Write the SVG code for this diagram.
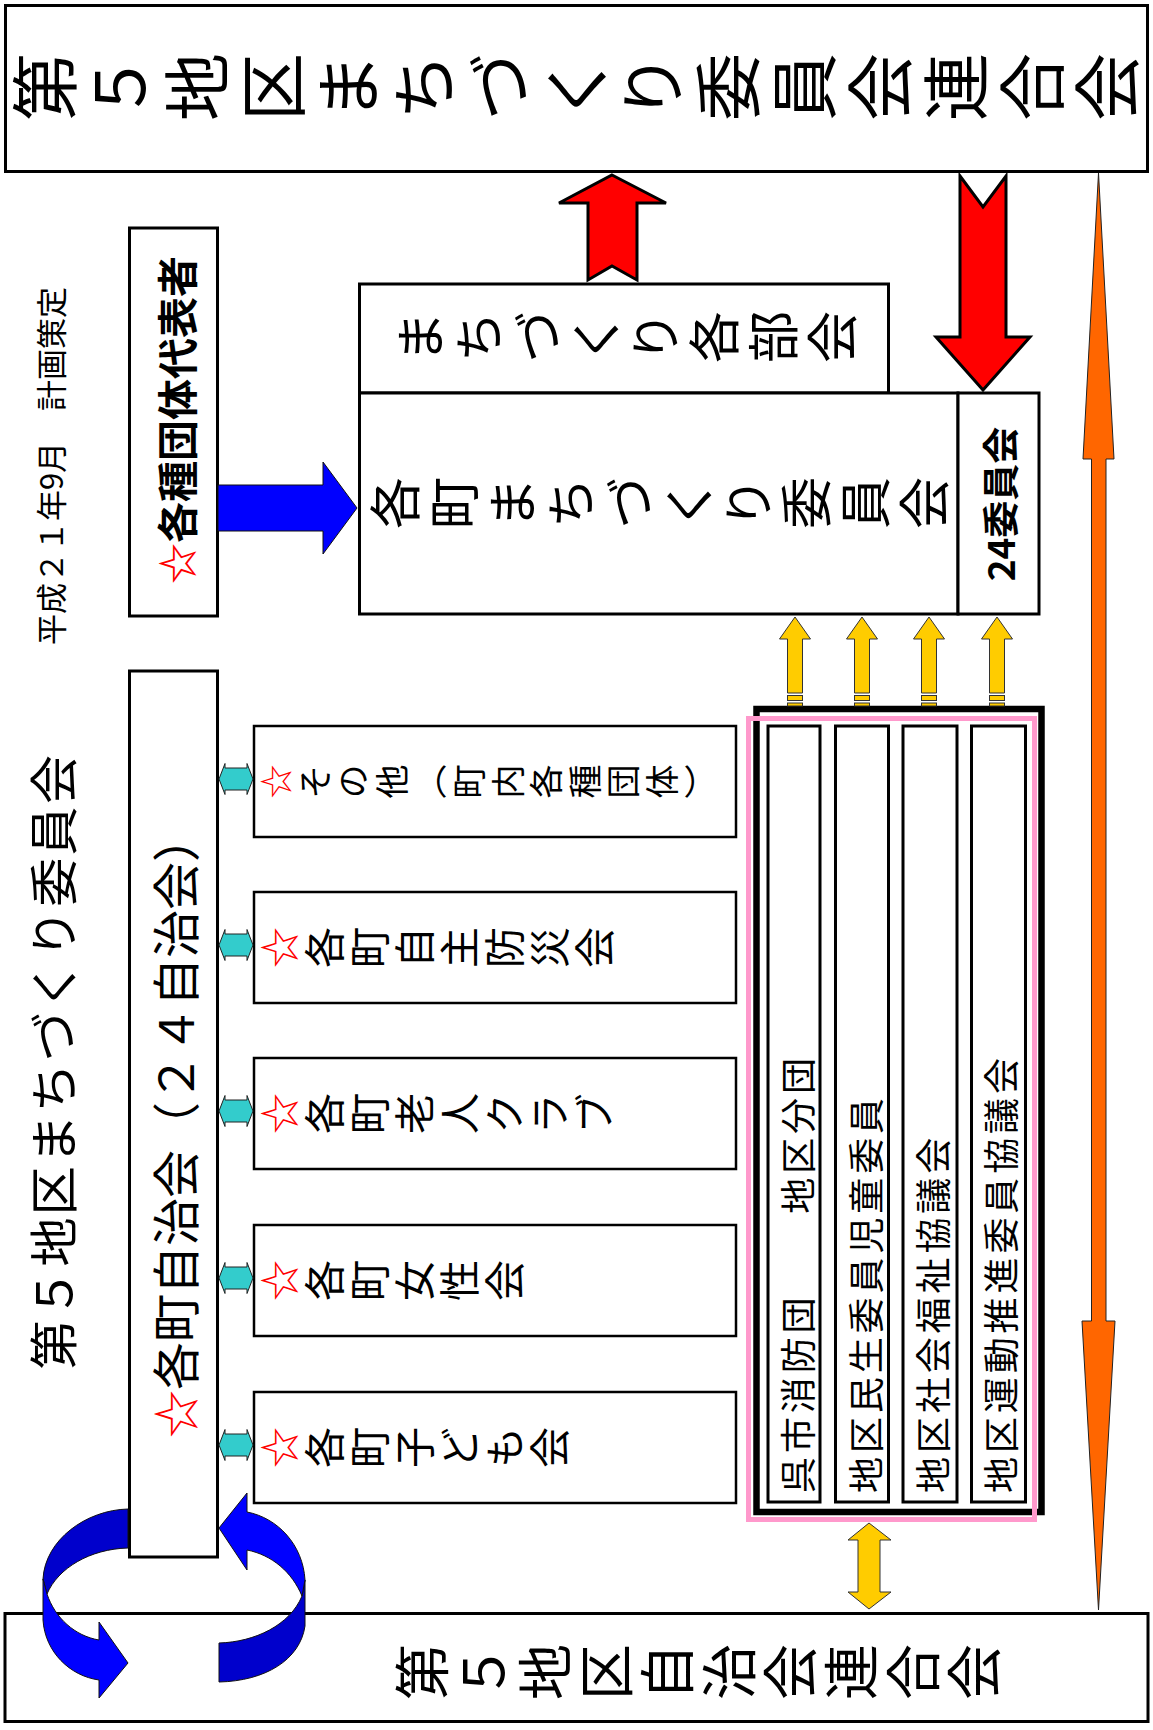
<svg xmlns="http://www.w3.org/2000/svg" width="1153" height="1730" viewBox="0 0 1153 1730">
<style>
  text { font-family: "Noto Sans CJK JP", "Noto Sans CJK SC", sans-serif; fill: #000; }
  .box { fill: #fff; stroke: #000; stroke-width: 3; }
  .sbox { fill: #fff; stroke: #000; stroke-width: 2.5; }
  .v { writing-mode: vertical-rl; }
  .h { dominant-baseline: central; }
  .mid { text-anchor: middle; }
  .star { fill: #ff0000; }
  .red { fill: #ff0000; stroke: #000; stroke-width: 3; }
  .yel { fill: #ffcc00; stroke: #333; stroke-width: 1; }
  .teal { fill: #33cccc; stroke: #222; stroke-width: 1; }
  .blue { fill: #0000ff; stroke: #111; stroke-width: 1; }
  .dblue { fill: #0000cc; stroke: #111; stroke-width: 1; }
  .orange { fill: #ff6600; stroke: #222; stroke-width: 1; }
</style>
<rect width="1153" height="1730" fill="#fff"/>

<g id="note">
  <text class="h mid" transform="translate(49,466) rotate(-90)" font-size="31">平成２１年9月　計画策定</text>
</g>
<g id="committee-label">
  <text class="h mid" transform="translate(50,1061) rotate(-90)" font-size="49" letter-spacing="2.4">第５地区まちづくり委員会</text>
</g>

<g id="federation-top">
  <rect class="box" x="5.5" y="5.5" width="1142" height="166"/>
  <text class="v" transform="translate(11,87) rotate(-90)" font-size="68" letter-spacing="7.9">第５地区まちづくり委員会連合会</text>
</g>

<g id="bukai">
  <rect class="box" x="359.5" y="284" width="529" height="109"/>
  <text class="v" transform="translate(394,337) rotate(-90)" font-size="52" letter-spacing="6.9">まちづくり各部会</text>
</g>

<g id="town-committee">
  <rect class="box" x="359.5" y="393" width="598.5" height="221"/>
  <text class="v" transform="translate(369,503) rotate(-90)" font-size="52" letter-spacing="6.8">各町まちづくり委員会</text>
</g>

<g id="committee-24">
  <rect class="box" x="958" y="393" width="81" height="221"/>
  <text class="h mid" transform="translate(999,504) rotate(-90)" font-size="37" font-weight="bold">24委員会</text>
</g>

<g id="representatives">
  <rect class="box" x="129.5" y="228" width="88" height="388"/>
  <text class="h mid" transform="translate(175,420) rotate(-90)" font-size="41" font-weight="bold"><tspan class="star">☆</tspan>各種団体代表者</text>
</g>

<g id="town-assoc">
  <rect class="box" x="129.5" y="671" width="88" height="886"/>
  <text class="h mid" transform="translate(173,1126) rotate(-90)" font-size="48"><tspan class="star">☆</tspan>各町自治会（２４自治会）</text>
</g>

<g id="other-groups">
  <rect class="sbox" x="254" y="726" width="482" height="111"/>
  <text class="v" transform="translate(259,781.5) rotate(-90)" font-size="34" letter-spacing="4.6"><tspan class="star">☆</tspan>その他（町内各種団体）</text>
</g>
<g id="bousai">
  <rect class="sbox" x="254" y="892" width="482" height="111"/>
  <text class="v" transform="translate(259,947.5) rotate(-90)" font-size="41" letter-spacing="4"><tspan class="star">☆</tspan>各町自主防災会</text>
</g>
<g id="roujin">
  <rect class="sbox" x="254" y="1058" width="482" height="111"/>
  <text class="v" transform="translate(259,1113.5) rotate(-90)" font-size="41" letter-spacing="4"><tspan class="star">☆</tspan>各町老人クラブ</text>
</g>
<g id="josei">
  <rect class="sbox" x="254" y="1225" width="482" height="111"/>
  <text class="v" transform="translate(259,1280.5) rotate(-90)" font-size="41" letter-spacing="4"><tspan class="star">☆</tspan>各町女性会</text>
</g>
<g id="kodomo">
  <rect class="sbox" x="254" y="1392" width="482" height="111"/>
  <text class="v" transform="translate(259,1447.5) rotate(-90)" font-size="41" letter-spacing="4"><tspan class="star">☆</tspan>各町子ども会</text>
</g>

<g id="district-orgs">
  <rect x="756.5" y="709" width="285" height="803" fill="#fff" stroke="#000" stroke-width="6.5"/>
  <rect x="748.5" y="718.5" width="286" height="801" fill="none" stroke="#ff99cc" stroke-width="5"/>
  <g id="col-fire">
    <rect class="box" x="768" y="726" width="52" height="776"/>
    <text class="h" transform="translate(796,1493) rotate(-90)" font-size="36" letter-spacing="3.9">呉市消防団　　地区分団</text>
  </g>
  <g id="col-minsei">
    <rect class="box" x="835.5" y="726" width="53" height="776"/>
    <text class="h" transform="translate(864,1493) rotate(-90)" font-size="36" letter-spacing="3.9">地区民生委員児童委員</text>
  </g>
  <g id="col-welfare">
    <rect class="box" x="903" y="726" width="54" height="776"/>
    <text class="h" transform="translate(931,1493) rotate(-90)" font-size="36" letter-spacing="3.9">地区社会福祉協議会</text>
  </g>
  <g id="col-sports">
    <rect class="box" x="971.5" y="726" width="54" height="776"/>
    <text class="h" transform="translate(999,1493) rotate(-90)" font-size="36" letter-spacing="3.9">地区運動推進委員協議会</text>
  </g>
</g>

<g id="federation-bottom">
  <rect class="box" x="5" y="1613.5" width="1143" height="108"/>
  <text class="v" transform="translate(394,1672) rotate(-90)" font-size="56" letter-spacing="5.3">第５地区自治会連合会</text>
</g>

<g id="connectors">
  <polygon class="red" points="612,175 666,203 637,203 637,280 612,266 588,280 588,203 559,203"/>
  <polygon class="red" points="960,176 983,207 1006,176 1006,337 1030,337 983,390 936,337 960,337"/>
  <polygon class="blue" points="218,485 323,485 323,462 357,508 323,554 323,531 218,531"/>
  <polygon class="orange" points="1098.5,173 1114,459 1106,459 1106,1321 1115,1321 1098.5,1610 1082,1321 1091.5,1321 1091.5,459 1083,459"/>

  <polygon class="yel" points="795,617 810.5,639 802.5,639 802.5,693 787.5,693 787.5,639 779.5,639"/>
  <rect class="yel" x="787.5" y="695.5" width="15" height="5"/>
  <rect class="yel" x="787.5" y="703" width="15" height="3"/>
  <polygon class="yel" points="862,617 877.5,639 869.5,639 869.5,693 854.5,693 854.5,639 846.5,639"/>
  <rect class="yel" x="854.5" y="695.5" width="15" height="5"/>
  <rect class="yel" x="854.5" y="703" width="15" height="3"/>
  <polygon class="yel" points="929,617 944.5,639 936.5,639 936.5,693 921.5,693 921.5,639 913.5,639"/>
  <rect class="yel" x="921.5" y="695.5" width="15" height="5"/>
  <rect class="yel" x="921.5" y="703" width="15" height="3"/>
  <polygon class="yel" points="997,617 1012.5,639 1004.5,639 1004.5,693 989.5,693 989.5,639 981.5,639"/>
  <rect class="yel" x="989.5" y="695.5" width="15" height="5"/>
  <rect class="yel" x="989.5" y="703" width="15" height="3"/>

  <polygon class="yel" points="869,1523 891,1540 880,1540 880,1592 891,1592 869,1609 848,1592 858,1592 858,1540 848,1540"/>

  <polygon class="teal" points="219,779 225,763.5 225,768 247,768 247,763.5 253,779 247,794.5 247,790 225,790 225,794.5"/>
  <polygon class="teal" points="219,945 225,929.5 225,934 247,934 247,929.5 253,945 247,960.5 247,956 225,956 225,960.5"/>
  <polygon class="teal" points="219,1111 225,1095.5 225,1100 247,1100 247,1095.5 253,1111 247,1126.5 247,1122 225,1122 225,1126.5"/>
  <polygon class="teal" points="219,1278 225,1262.5 225,1267 247,1267 247,1262.5 253,1278 247,1293.5 247,1289 225,1289 225,1293.5"/>
  <polygon class="teal" points="219,1445 225,1429.5 225,1434 247,1434 247,1429.5 253,1445 247,1460.5 247,1456 225,1456 225,1460.5"/>

  <path class="dblue" d="M128,1509 C86,1510 45,1540 43,1579 L47,1594 C58,1568 90,1549 128,1548 Z"/>
  <path class="blue" d="M43,1579 L43,1620 C45,1652 70,1676 99,1680 L99,1698 L128,1663 L99,1622 L99,1640 C75,1636 55,1618 47,1594 Z"/>
  <path class="dblue" d="M305,1580 L305,1626 C300,1660 265,1681 219,1682 L219,1643 C255,1642 290,1625 302,1596 Z"/>
  <path class="blue" d="M247,1512 C278,1518 303,1545 305,1580 L302,1596 C292,1572 272,1555 247,1550 L247,1570 L219,1528 L247,1493 Z"/>
</g>
</svg>
